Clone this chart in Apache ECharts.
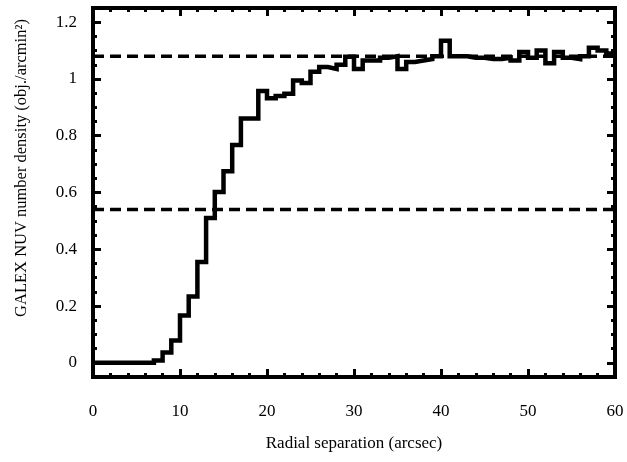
<!DOCTYPE html>
<html>
<head>
<meta charset="utf-8">
<script src="https://cdn.jsdelivr.net/npm/echarts@6/dist/echarts.min.js"></script>
<style>
  html, body { margin: 0; padding: 0; background: #fff; }
  #chart { width: 627px; height: 462px; }
</style>
</head>
<body>
<div id="chart"></div>
<script>
// Left edges of the 1-arcsec radial bins, plus the outer edge of the last bin
var binLeft = [0, 1, 2, 3, 4, 5, 6, 7, 8, 9,
               10, 11, 12, 13, 14, 15, 16, 17, 18, 19,
               20, 21, 22, 23, 24, 25, 26, 27, 28, 29,
               30, 31, 32, 33, 34, 35, 36, 37, 38, 39,
               40, 41, 42, 43, 44, 45, 46, 47, 48, 49,
               50, 51, 52, 53, 54, 55, 56, 57, 58, 59];
var outerEdge = 60;

// NUV source density in each bin (obj./arcmin^2)
var density = [0, 0, 0, 0, 0, 0, 0, 0.008, 0.036, 0.079,
               0.167, 0.234, 0.355, 0.51, 0.602, 0.675, 0.767, 0.861, 0.861, 0.958,
               0.932, 0.94, 0.948, 0.995, 0.986, 1.025, 1.042, 1.035, 1.05, 1.078,
               1.035, 1.065, 1.065, 1.075, 1.08, 1.035, 1.06, 1.065, 1.07, 1.08,
               1.135, 1.08, 1.08, 1.075, 1.075, 1.07, 1.07, 1.075, 1.065, 1.095,
               1.075, 1.10, 1.055, 1.095, 1.075, 1.07, 1.08, 1.11, 1.10, 1.09];

// Background level and half of it
var refLevels = [1.08, 0.54];

// Axis ticks
var xTicks = [0, 10, 20, 30, 40, 50, 60];
var yMajorTicks = [0, 0.2, 0.4, 0.6, 0.8, 1, 1.2];
var yMinorTicks = [0.05, 0.1, 0.15, 0.25, 0.3, 0.35, 0.45, 0.5, 0.55,
                   0.65, 0.7, 0.75, 0.85, 0.9, 0.95, 1.05, 1.1, 1.15];

var FONT = '"Liberation Serif", "DejaVu Serif", "Times New Roman", serif';

var stepData = binLeft.map(function (x, i) { return [x, density[i]]; });
stepData.push([outerEdge, density[density.length - 1]]);

function frameLine(show) {
  return { show: show, onZero: false, lineStyle: { color: '#000', width: 4, cap: 'square' } };
}

function xAxisDef(pos, showLabels) {
  return {
    type: 'value', position: pos, min: xTicks[0], max: xTicks[xTicks.length - 1],
    interval: 10,
    axisLine: frameLine(true),
    axisTick: { show: true, inside: true, length: 8, lineStyle: { color: '#000', width: 3 } },
    minorTick: { show: true, splitNumber: 5, length: 4, lineStyle: { color: '#000', width: 3 } },
    splitLine: { show: false },
    axisLabel: { show: showLabels, margin: 26, fontFamily: FONT, fontSize: 17, color: '#000' },
    name: showLabels ? 'Radial separation (arcsec)' : '',
    nameLocation: 'middle', nameGap: 58,
    nameTextStyle: { fontFamily: FONT, fontSize: 17, color: '#000' }
  };
}

function yAxisDef(pos, values, len, showLine, showLabels) {
  return {
    type: 'value', position: pos, min: -0.05, max: 1.25,
    axisLine: frameLine(showLine),
    axisTick: { show: true, inside: true, length: len, customValues: values,
                lineStyle: { color: '#000', width: 3 } },
    splitLine: { show: false },
    axisLabel: { show: showLabels, customValues: values, margin: 16,
                 fontFamily: FONT, fontSize: 17, color: '#000' }
  };
}

var chart = echarts.init(document.getElementById('chart'), null, { renderer: 'canvas' });
chart.setOption({
  animation: false,
  backgroundColor: '#fff',
  grid: { left: 93, right: 12, top: 8, bottom: 85, containLabel: false },
  xAxis: [xAxisDef('bottom', true), xAxisDef('top', false)],
  yAxis: [
    yAxisDef('left', yMajorTicks, 8, true, true),
    yAxisDef('left', yMinorTicks, 4, false, false),
    yAxisDef('right', yMajorTicks, 8, true, false),
    yAxisDef('right', yMinorTicks, 4, false, false)
  ],
  graphic: [{
    type: 'text',
    x: 22, y: 168,
    rotation: Math.PI / 2,
    style: {
      text: 'GALEX NUV number density (obj./arcmin\u00B2)',
      fontFamily: FONT, fontSize: 16.5, fill: '#000',
      align: 'center', verticalAlign: 'middle'
    }
  }],
  series: [
    {
      type: 'line', xAxisIndex: 0, yAxisIndex: 0,
      data: [[xTicks[0], refLevels[0]], [xTicks[xTicks.length - 1], refLevels[0]]],
      symbol: 'none', silent: true,
      lineStyle: { color: '#000', width: 3.5, type: [11, 6] }
    },
    {
      type: 'line', xAxisIndex: 0, yAxisIndex: 0,
      data: [[xTicks[0], refLevels[1]], [xTicks[xTicks.length - 1], refLevels[1]]],
      symbol: 'none', silent: true,
      lineStyle: { color: '#000', width: 3.5, type: [11, 6] }
    },
    {
      type: 'line', xAxisIndex: 0, yAxisIndex: 0,
      data: stepData, step: 'end',
      symbol: 'none', silent: true,
      lineStyle: { color: '#000', width: 4.5, join: 'miter', cap: 'butt' }
    }
  ]
});
</script>
</body>
</html>
